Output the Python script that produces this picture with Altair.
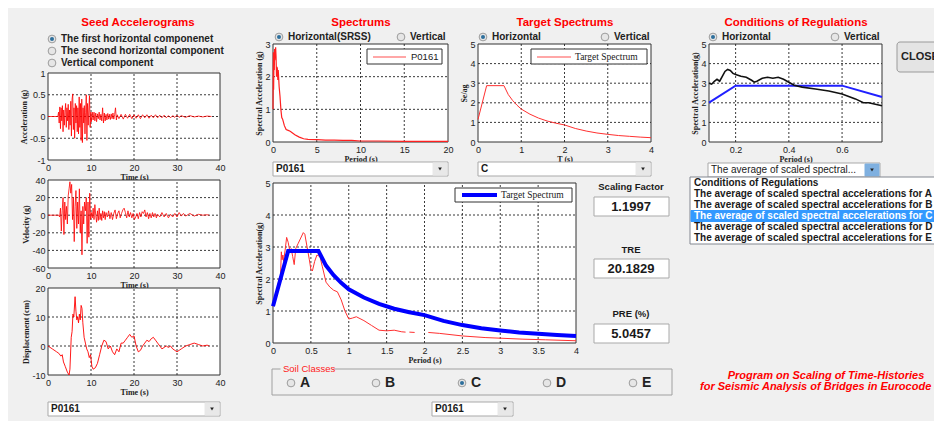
import altair as alt
import pandas as pd

# ---------------- data ----------------
acc_points = [(0, 0), (2.3, 0), (2.45, 0.1), (2.6, -0.15), (2.75, 0.22), (2.9, -0.28), (3.05, 0.2), (3.2, -0.1),
              (3.35, 0.25), (3.5, -0.35), (3.65, 0.15), (3.8, -0.2), (3.95, 0.1), (4.1, 0.3), (4.25, -0.25),
              (4.4, 0.2), (4.55, -0.1), (4.7, 0.28), (4.85, -0.3), (5.0, 0.15), (5.15, -0.2), (5.3, 0.35),
              (5.45, -0.45), (5.6, 0.4), (5.75, 0.52), (5.9, -0.3), (6.05, 0.2), (6.2, -0.5), (6.35, 0.3),
              (6.5, -0.15), (6.65, 0.25), (6.8, -0.35), (6.95, 0.2), (7.1, -0.4), (7.25, 0.45), (7.4, -0.25),
              (7.55, 0.3), (7.7, -0.55), (7.85, 0.4), (8.0, -0.6), (8.15, 0.2), (8.3, -0.15), (8.45, 0.25),
              (8.6, -0.4), (8.75, 0.1), (8.9, 0.5), (9.05, -0.55), (9.2, 0.3), (9.35, -0.2), (9.5, 0.15),
              (9.65, 0.48), (9.8, -0.25), (9.95, 0.1), (10.1, -0.12), (10.3, 0.1), (10.5, -0.08), (10.7, 0.1),
              (10.9, -0.1), (11.1, 0.08), (11.3, -0.12), (11.5, 0.06), (11.7, -0.05), (11.9, 0.1), (12.1, -0.08),
              (12.3, 0.05), (12.5, -0.1), (12.7, 0.2), (12.9, -0.15), (13.1, 0.08), (13.3, -0.1), (13.5, 0.05),
              (13.7, -0.08), (13.9, 0.07), (14.1, -0.06), (14.3, 0.05), (14.5, -0.07), (14.7, 0.06), (14.9, -0.05),
              (15.1, 0.08), (15.3, -0.06), (15.5, 0.05), (15.7, 0.2), (15.9, -0.08), (16.1, 0.04), (16.5, -0.05),
              (17, 0.05), (17.5, -0.06), (18, 0.05), (18.5, -0.04), (19, 0.05), (19.5, -0.05), (20, 0.04),
              (20.5, -0.04), (21, 0.04), (21.5, -0.05), (22, 0.04), (22.5, -0.03), (23, 0.04), (23.5, -0.04),
              (24, 0.03), (24.5, -0.03), (25, 0.04), (25.5, -0.03), (26, 0.03), (26.5, -0.03), (27, 0.03),
              (27.5, -0.03), (28, 0.02), (28.5, -0.03), (29, 0.02), (29.5, -0.02), (30, 0.03), (30.5, -0.02),
              (31, 0.02), (32, -0.02), (33, 0.02), (34, -0.01), (35, 0.01), (36, -0.01), (37, 0.01), (38, 0)]

vel_points = [(0, 0), (2.5, 0), (2.7, -2), (2.9, 8), (3.1, -18), (3.3, 5), (3.5, 20), (3.7, -22), (3.9, 15),
              (4.1, -5), (4.3, 10), (4.5, -10), (4.7, 22), (4.9, 30), (5.1, 38), (5.3, 25), (5.5, 35), (5.7, -5),
              (5.9, 20), (6.1, -30), (6.3, 10), (6.5, 28), (6.7, -15), (6.9, 15), (7.1, -10), (7.3, 30), (7.5, -20),
              (7.7, 5), (7.9, -45), (8.1, 10), (8.3, -10), (8.5, 15), (8.7, 5), (8.9, 20), (9.1, -32), (9.3, 15),
              (9.5, -25), (9.7, 25), (9.9, -5), (10.1, 3), (10.3, -3), (10.5, 8), (10.7, -5), (10.9, 12), (11.1, 0),
              (11.3, -8), (11.5, 5), (11.7, -6), (11.9, 8), (12.1, -5), (12.3, 2), (12.5, -6), (12.7, 5),
              (12.9, -3), (13.1, 4), (13.3, -5), (13.5, 3), (13.8, -2), (14.1, 5), (14.4, -4), (14.7, 3),
              (15.0, -5), (15.3, 2), (15.6, 6), (15.9, -4), (16.2, 2), (16.5, 5), (16.8, -3), (17.1, 2), (17.4, 6),
              (17.7, 8), (18.0, 3), (18.3, -3), (18.6, 5), (18.9, -2), (19.2, 3), (19.5, -3), (19.8, 2),
              (20.1, -5), (20.4, -2), (20.7, 2), (21.0, -4), (21.3, 3), (21.6, -2), (21.9, 4), (22.2, 2),
              (22.5, 6), (22.8, -2), (23.1, 3), (23.4, -4), (23.7, 2), (24.0, -3), (24.3, 3), (24.6, -2),
              (24.9, 2), (25.2, -3), (25.5, 1), (26, -2), (26.5, 3), (27, -2), (27.5, 2), (28, -3), (28.5, 1),
              (29, -2), (29.5, 2), (30, -2), (30.5, 3), (31, -1), (31.5, 2), (32, -1), (33, 2), (34, -1), (35, 1),
              (36, 0), (37, 0.5), (37.5, 0)]

disp_points = [(0, 0), (1, -1), (2, -2), (2.5, -2.5), (3, -3.5), (3.3, -3), (3.6, -5.5), (4, -7), (4.5, -9),
               (4.9, -10), (5.1, -8), (5.4, 3), (5.6, 5), (5.8, 11), (6, 10), (6.3, 17), (6.5, 12), (6.7, 9),
               (6.9, 10), (7.1, 8), (7.3, 11), (7.5, 9), (7.7, 14), (7.9, 13), (8.1, 8), (8.4, 3), (8.7, 1),
               (9, -1), (9.3, -2), (9.6, -4), (9.9, -3), (10.2, -7), (10.5, -8), (11, -7.5), (11.5, -6),
               (12, -3), (12.5, 0), (13, 2), (13.5, 1.5), (14, -1), (14.5, 0), (15, -2), (15.5, -3), (16, -1),
               (16.5, -2), (17, 1), (17.5, 1), (18, 2), (18.5, 3), (19, 4), (19.5, 3), (20, 3.5), (20.5, 0),
               (21, -2), (21.5, -1.5), (22, 0), (22.5, 1), (23, 2), (23.5, 1.5), (24, 2.5), (24.5, 3), (25, 2),
               (25.5, 1), (26, 0), (26.5, -1), (27, -0.5), (27.5, 0), (28, -0.5), (28.5, 0), (29, -1),
               (29.5, -1.5), (30, -2), (30.5, -1.5), (31, -1), (32, 0), (33, 0.5), (34, 1), (35, 0.5), (36, 0),
               (37, 0.3), (37.5, 0)]

seed_spectrum = [(0, 1.0), (0.03, 2.2), (0.05, 2.75), (0.07, 1.6), (0.1, 2.3), (0.12, 2.6), (0.15, 2.2),
                 (0.18, 2.85), (0.2, 2.5), (0.25, 2.75), (0.3, 2.9), (0.35, 2.6), (0.4, 2.0), (0.45, 2.3),
                 (0.5, 2.25), (0.55, 1.9), (0.6, 2.2), (0.7, 1.7), (0.8, 1.4), (0.9, 1.0), (1.0, 0.75),
                 (1.1, 0.7), (1.3, 0.5), (1.5, 0.38), (1.8, 0.35), (2.0, 0.32), (2.5, 0.22), (3, 0.15),
                 (3.5, 0.1), (4, 0.08), (5, 0.07), (6, 0.06), (7, 0.06), (8, 0.05), (9, 0.05), (10, 0.03),
                 (12, 0.03), (15, 0.02), (20, 0.02)]

target_spectrum = [(0, 1.15), (0.2, 2.875), (0.6, 2.875), (0.7, 2.42), (0.8, 2.12), (0.9, 1.88), (1.0, 1.68),
                   (1.2, 1.42), (1.4, 1.22), (1.6, 1.07), (1.8, 0.96), (2.0, 0.87), (2.25, 0.69), (2.5, 0.56),
                   (2.75, 0.46), (3.0, 0.39), (3.25, 0.33), (3.5, 0.29), (3.75, 0.25), (4.0, 0.22)]

# scaled seed spectrum, split in segments where the drawn line has gaps
scaled_spectrum = [(0, 1.15, 0), (0.03, 1.4, 0), (0.06, 1.75, 0), (0.08, 2.0, 0), (0.1, 2.1, 0), (0.11, 2.85, 0),
                   (0.12, 2.6, 0), (0.13, 2.75, 0), (0.14, 2.55, 0), (0.16, 2.9, 0), (0.18, 3.3, 0),
                   (0.2, 3.15, 0), (0.22, 2.9, 0), (0.24, 2.95, 0), (0.26, 2.7, 0), (0.28, 2.45, 0),
                   (0.3, 2.95, 0), (0.33, 3.1, 0), (0.36, 3.25, 0), (0.4, 3.45, 0), (0.42, 3.4, 0),
                   (0.45, 3.0, 0), (0.48, 2.6, 0), (0.5, 2.3, 0), (0.52, 2.25, 0), (0.55, 2.55, 0),
                   (0.58, 2.75, 0), (0.62, 2.7, 0), (0.65, 2.4, 0), (0.7, 1.9, 0), (0.75, 1.75, 0),
                   (0.8, 1.65, 0), (0.85, 1.6, 0), (0.9, 1.35, 0), (0.95, 1.0, 0), (1.0, 0.75, 0),
                   (1.05, 0.78, 0), (1.1, 0.82, 0), (1.2, 0.7, 0), (1.3, 0.55, 0), (1.4, 0.4, 0),
                   (1.5, 0.38, 0), (1.6, 0.4, 0), (1.7, 0.35, 0), (1.75, 0.34, 0),
                   (1.8, 0.34, 1), (1.87, 0.33, 1),
                   (2.05, 0.33, 2), (2.2, 0.3, 2), (2.5, 0.22, 2), (2.8, 0.17, 2), (3.0, 0.15, 2),
                   (3.3, 0.12, 2), (3.6, 0.1, 2), (4.0, 0.07, 2)]

cond_target = [(0.1, 2.01), (0.2, 2.875), (0.6, 2.875), (0.75, 2.3)]
cond_average = [(0.1, 3.0), (0.11, 2.95), (0.12, 3.1), (0.13, 3.2), (0.14, 3.1), (0.15, 3.35), (0.16, 3.6),
                (0.17, 3.7), (0.18, 3.65), (0.19, 3.5), (0.2, 3.45), (0.22, 3.35), (0.24, 3.3), (0.26, 3.15),
                (0.27, 3.05), (0.28, 3.1), (0.3, 3.25), (0.32, 3.3), (0.34, 3.25), (0.36, 3.3), (0.38, 3.2),
                (0.4, 3.05), (0.42, 2.9), (0.45, 2.8), (0.5, 2.7), (0.55, 2.6), (0.6, 2.45), (0.65, 2.2),
                (0.68, 2.0), (0.7, 2.0), (0.75, 1.85)]

regulation_items = ["Conditions of Regulations",
                    "The average of scaled spectral accelerations for A cities",
                    "The average of scaled spectral accelerations for B cities",
                    "The average of scaled spectral accelerations for C cities",
                    "The average of scaled spectral accelerations for D cities",
                    "The average of scaled spectral accelerations for E cities"]
soil_classes = ["A", "B", "C", "D", "E"]
results = [("Scaling Factor", "1.1997"), ("TRE", "20.1829"), ("PRE (%)", "5.0457")]

# ---------------- helpers ----------------
OFF = 8
W, H = 926, 413
SANS = "Liberation Sans"
SERIF = "Liberation Serif"
ONE = alt.Data(values=[{"k": 1}])
layers = []


def p(v):
    return v - OFF


def text(s, x, y, size=10, color="#1a1a1a", weight="bold", align="left", font=SANS, style="normal"):
    layers.append(alt.Chart(ONE).mark_text(text=s, fontSize=size, color=color, fontWeight=weight, align=align,
                                           baseline="middle", font=font, fontStyle=style)
                  .encode(x=alt.value(p(x)), y=alt.value(p(y))))


def box(x0, y0, x1, y1, fill="white", stroke="#a0a0a0", sw=1, opacity=1, r=0):
    layers.append(alt.Chart(ONE).mark_rect(fill=fill, stroke=stroke, strokeWidth=sw, fillOpacity=opacity,
                                           cornerRadius=r)
                  .encode(x=alt.value(p(x0)), x2=alt.value(p(x1)), y=alt.value(p(y0)), y2=alt.value(p(y1))))


def hline(x0, x1, y, color, w):
    layers.append(alt.Chart(ONE).mark_rule(color=color, strokeWidth=w)
                  .encode(x=alt.value(p(x0)), x2=alt.value(p(x1)), y=alt.value(p(y))))


def radio(x, y, label, on=False, size=10):
    layers.append(alt.Chart(ONE).mark_circle(size=60, color="#e6e6e6", opacity=1, stroke="#9c9c9c",
                                             strokeWidth=1)
                  .encode(x=alt.value(p(x)), y=alt.value(p(y))))
    if on:
        layers.append(alt.Chart(ONE).mark_circle(size=16, color="#2d6f9c", opacity=1)
                      .encode(x=alt.value(p(x)), y=alt.value(p(y))))
    text(label, x + 9, y, size=size, color="#222")


def dropdown(x0, y0, x1, y1, label, arrow_fill="#e8e8e8", weight="bold"):
    box(x0, y0, x1, y1, fill="white", stroke="#a9a9a9")
    box(x1 - 15, y0 + 1, x1 - 1, y1 - 1, fill=arrow_fill, stroke=arrow_fill)
    layers.append(alt.Chart(ONE).mark_point(shape="triangle-down", size=14, filled=True, color="#222",
                                            opacity=1)
                  .encode(x=alt.value(p(x1 - 8)), y=alt.value(p((y0 + y1) / 2))))
    text(label, x0 + 3, (y0 + y1) / 2, size=10, weight=weight)


def panel(xdom, ydom, x0, x1, y_top, y_bot, xticks, yticks, xgrid, ygrid, xtitle, ytitle, series):
    xs = alt.Scale(domain=xdom, range=[p(x0), p(x1)], nice=False, zero=False)
    ys = alt.Scale(domain=ydom, range=[p(y_bot), p(y_top)], nice=False, zero=False)
    frame_df = pd.DataFrame({"x0": [xdom[0]], "x1": [xdom[1]], "y0": [ydom[0]], "y1": [ydom[1]]})
    lab = "'' + datum.value"
    frame = alt.Chart(frame_df).mark_rect(fill="white", stroke="#333", strokeWidth=1).encode(
        x=alt.X("x0:Q", scale=xs, axis=alt.Axis(orient="bottom", offset=p(y_bot) - H, values=xticks,
                                                title=xtitle, labelExpr=lab)),
        x2="x1:Q",
        y=alt.Y("y0:Q", scale=ys, axis=alt.Axis(orient="left", offset=-p(x0), values=yticks,
                                                title=ytitle, labelExpr=lab)),
        y2="y1:Q")
    gx = alt.Chart(pd.DataFrame({"g": xgrid, "a": ydom[0], "b": ydom[1]})).mark_rule(
        color="#222", strokeDash=[2, 2], strokeWidth=0.9).encode(
        x=alt.X("g:Q", scale=xs, axis=None), y=alt.Y("a:Q", scale=ys, axis=None), y2="b:Q")
    gy = alt.Chart(pd.DataFrame({"g": ygrid, "a": xdom[0], "b": xdom[1]})).mark_rule(
        color="#222", strokeDash=[2, 2], strokeWidth=0.9).encode(
        y=alt.Y("g:Q", scale=ys, axis=None), x=alt.X("a:Q", scale=xs, axis=None), x2="b:Q")
    layers.extend([frame, gx, gy])
    for pts, color, width in series:
        if len(pts[0]) == 3:
            df = pd.DataFrame(pts, columns=["t", "v", "s"])
        else:
            df = pd.DataFrame(pts, columns=["t", "v"])
            df["s"] = 0
        layers.append(alt.Chart(df).mark_line(color=color, strokeWidth=width, clip=True).encode(
            x=alt.X("t:Q", scale=xs, axis=None), y=alt.Y("v:Q", scale=ys, axis=None),
            detail="s:N", order="t:Q"))


# ---------------- left column: seed accelerograms ----------------
text("Seed Accelerograms", 138, 23, size=11.5, color="#ff0000", align="center")
radio(52, 39, "The first horizontal componenet", on=True)
radio(52, 51, "The second horizontal component")
radio(52, 63, "Vertical component")

panel([0, 40], [-1, 1], 48, 220, 73, 160, [0, 10, 20, 30, 40], [-1, -0.5, 0, 0.5, 1],
      [10, 20, 30], [-0.5, 0, 0.5], "Time (s)", "Acceleration (g)", [(acc_points, "#ff0000", 0.8)])
panel([0, 40], [-60, 40], 48, 220, 180, 268, [0, 10, 20, 30, 40], [-60, -40, -20, 0, 20, 40],
      [10, 20, 30], [-40, -20, 0, 20], "Time (s)", "Velocity (g)", [(vel_points, "#ff0000", 0.8)])
panel([0, 40], [-10, 20], 48, 220, 288, 375, [0, 10, 20, 30, 40], [-10, 0, 10, 20],
      [10, 20, 30], [0, 10], "Time (s)", "Displacement (cm)", [(disp_points, "#ff0000", 0.9)])
dropdown(48, 402, 220, 416, "P0161")

# ---------------- spectrums ----------------
text("Spectrums", 361, 23, size=11.5, color="#ff0000", align="center")
radio(279, 37, "Horizontal(SRSS)", on=True)
radio(401, 37, "Vertical")
panel([0, 20], [0, 3], 273, 448, 44, 142, [0, 5, 10, 15, 20], [0, 1, 2, 3],
      [5, 10, 15], [1, 2], "Period  (s)", "Spectral Acceleration (g)", [(seed_spectrum, "#ff2020", 1.2)])
box(367, 49, 442, 64, fill="white", stroke="#333")
hline(373, 406, 57, "#ff5050", 1.2)
text("P0161", 411, 57, size=9.5, weight="normal", font=SANS)
dropdown(273, 162, 448, 176, "P0161")

# ---------------- target spectrums ----------------
text("Target Spectrums", 565, 23, size=11.5, color="#ff0000", align="center")
radio(483, 37, "Horizontal", on=True)
radio(605, 37, "Vertical")
panel([0, 4], [0, 5], 478, 651, 44, 142, [0, 1, 2, 3, 4], [0, 1, 2, 3, 4, 5],
      [1, 2, 3], [1, 2, 3, 4], "T (s)", "Se/ag", [(target_spectrum, "#ff3030", 1.0)])
box(531, 49, 647, 64, fill="white", stroke="#333")
hline(537, 571, 57, "#ff5050", 1.2)
text("Target Spectrum", 575, 57, size=9.5, weight="normal", font=SERIF)
dropdown(478, 162, 651, 176, "C")

# ---------------- conditions of regulations ----------------
text("Conditions of Regulations", 796, 23, size=11.5, color="#ff0000", align="center")
radio(713, 37, "Horizontal", on=True)
radio(835, 37, "Vertical")
panel([0.1, 0.75], [0, 5], 709, 882, 44, 142, [0.2, 0.4, 0.6], [0, 1, 2, 3, 4, 5],
      [0.2, 0.4, 0.6], [1, 2, 3, 4], "Period (s)", "Spectral Acceleration(g)",
      [(cond_target, "#2020ff", 2.0), (cond_average, "#111111", 1.6)])
dropdown(708, 163, 880, 177, "The average of scaled spectral...", arrow_fill="#7fb0e0", weight="normal")

# list box
box(690, 177, 950, 244, fill="white", stroke="#828790")
for i, item in enumerate(regulation_items):
    yy = 183 + i * 11
    if i == 3:
        box(691, yy - 5.5, 950, yy + 5.5, fill="#3399ff", stroke="#3399ff")
    text(item, 694, yy, size=10, color="white" if i == 3 else "#1a1a1a")

# close button
box(897, 42, 950, 72, fill="#e4e4e4", stroke="#9a9a9a", r=3)
text("CLOSE", 901, 57, size=11, color="#222")

# ---------------- big scaled spectrum plot ----------------
panel([0, 4], [0, 5], 273, 576, 183, 343, [0, 0.5, 1, 1.5, 2, 2.5, 3, 3.5, 4], [0, 1, 2, 3, 4, 5],
      [0.5, 1, 1.5, 2, 2.5, 3, 3.5], [1, 2, 3, 4], "Period (s)", "Spectral Acceleration(g)",
      [(scaled_spectrum, "#ff3030", 1.0), (target_spectrum, "#0000ff", 4.0)])
box(455, 188, 572, 202, fill="white", stroke="#333")
hline(462, 497, 195, "#0000ff", 4)
text("Target Spectrum", 501, 195, size=9.5, weight="normal", font=SERIF)

# results boxes
for i, (lab, val) in enumerate(results):
    ly = [187, 250, 314][i]
    by = [197, 259, 324][i]
    text(lab, 631, ly, size=9.5, align="center")
    box(594, by, 669, by + 19, fill="white", stroke="#a9a9a9")
    text(val, 631, by + 9.5, size=13, align="center")

# soil classes group
box(272, 369, 672, 395, fill="white", stroke="#a0a0a0", opacity=0)
box(281, 364, 333, 374, fill="#f0f0f0", stroke="#f0f0f0")
text("Soil Classes", 283, 369, size=9.5, color="#ff2020", weight="normal")
for i, s in enumerate(soil_classes):
    radio([291, 376, 462, 547, 633][i], 383, s, on=(s == "C"), size=14)
dropdown(432, 402, 513, 416, "P0161")

# footer text
text("Program on Scaling of Time-Histories", 826, 376, size=11, color="#ff0000", style="italic",
     align="center")
text("for Seismic Analysis of Bridges in Eurocode 8", 700, 387, size=11, color="#ff0000", style="italic")

chart = alt.layer(*layers).resolve_scale(x="independent", y="independent").resolve_axis(
    x="independent", y="independent").properties(
    width=W, height=H, autosize="none", padding=0, background="#f0f0f0"
).configure_view(stroke=None).configure_axis(
    grid=False, ticks=False, domain=False, labelFont=SANS, labelFontSize=9, labelColor="#222",
    labelPadding=3, labelOverlap=False, labelFlush=False, labelBound=False, zindex=1,
    titleFont=SERIF, titleFontSize=8, titleFontWeight="bold", titleColor="#222", titlePadding=1
)

chart.save("out.html", embed_options={"renderer": "svg", "actions": False})
